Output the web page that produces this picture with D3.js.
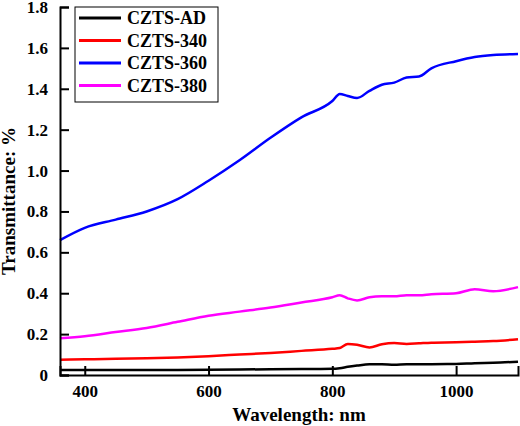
<!DOCTYPE html>
<head>
<meta charset="utf-8">
<style>
body{margin:0;background:#fff;}
text{font-family:"Liberation Serif","Times New Roman",serif;font-weight:bold;}
</style>
</head>
<body>
<svg width="520" height="426"></svg>
<script src="https://d3js.org/d3.v7.min.js"></script>
<script>
var names = ["CZTS-AD","CZTS-340","CZTS-360","CZTS-380"];
var colors = ["#000000","#ff0000","#0000ff","#ff00ff"];
var wl = [360,400,450,500,550,600,650,700,750,800,812,825,840,860,880,900,920,940,960,1000,1030,1060,1100];
var ad  = [0.025,0.025,0.025,0.025,0.025,0.026,0.027,0.028,0.029,0.030,0.033,0.040,0.046,0.052,0.052,0.050,0.052,0.052,0.053,0.054,0.058,0.060,0.065];
var s340= [0.075,0.077,0.079,0.082,0.086,0.092,0.100,0.108,0.118,0.128,0.132,0.152,0.148,0.135,0.150,0.156,0.152,0.155,0.158,0.160,0.163,0.166,0.175];
var s360= [0.66,0.72,0.76,0.80,0.86,0.95,1.05,1.16,1.26,1.34,1.375,1.365,1.355,1.39,1.42,1.43,1.455,1.46,1.50,1.535,1.555,1.565,1.57];
var s380= [0.18,0.19,0.21,0.23,0.26,0.29,0.31,0.33,0.355,0.38,0.39,0.375,0.365,0.38,0.385,0.385,0.39,0.39,0.395,0.40,0.42,0.41,0.43];
var series = [ad,s340,s360,s380];
var xTicks = [400,600,800,1000];
var yTicks = [0,0.2,0.4,0.6,0.8,1.0,1.2,1.4,1.6,1.8];

var svg = d3.select("svg");
var L=60,R=518,T=7,B=375;
var x = d3.scaleLinear().domain([360,1100]).range([L,R]);
var y = d3.scaleLinear().domain([0,1.8]).range([B,T]);

var line = d3.line().x(function(d){return x(d[0]);}).y(function(d){return y(d[1]);}).curve(d3.curveMonotoneX);
series.forEach(function(s,i){
    svg.append("path").datum(wl.map(function(w,j){return [w,s[j]];}))
        .attr("d",line).attr("fill","none").attr("stroke",colors[i]).attr("stroke-width",2.5);
});

// x axis
var gx = svg.append("g").attr("transform","translate(0,"+B+")");
gx.call(d3.axisBottom(x).tickValues(d3.range(400,1101,100)).tickSize(-6).tickFormat(""));
gx.call(d3.axisBottom(x).tickValues(xTicks).tickSize(-9).tickPadding(10).tickFormat(d3.format("d")));
gx.selectAll(".domain").attr("stroke-width",2);
gx.selectAll("line").attr("stroke-width",2);
gx.selectAll("text").attr("font-size",17).attr("fill","#000");

var gy = svg.append("g").attr("transform","translate("+L+",0)");
gy.call(d3.axisLeft(y).tickValues(d3.range(0.1,1.8,0.2)).tickSize(-6).tickFormat(""));
gy.call(d3.axisLeft(y).tickValues(yTicks).tickSize(-9).tickPadding(12).tickFormat(function(d){return d===0?"0":d3.format(".1f")(d);}));
gy.selectAll(".domain").attr("stroke-width",2);
gy.selectAll("line").attr("stroke-width",2);
gy.selectAll("text").attr("font-size",17).attr("fill","#000");

svg.append("text").attr("x",(L+R)/2+10).attr("y",421).attr("text-anchor","middle").attr("font-size",19).text("Wavelength: nm");
svg.append("text").attr("transform","translate(15,"+((T+B)/2+10)+") rotate(-90)").attr("text-anchor","middle").attr("font-size",19).text("Transmittance: %");

// legend
svg.append("rect").attr("x",75).attr("y",7).attr("width",143).attr("height",95).attr("fill","#fff").attr("stroke","#000").attr("stroke-width",1);
names.forEach(function(n,i){
    var yy = 18+i*22.5;
    svg.append("line").attr("x1",79).attr("x2",121).attr("y1",yy).attr("y2",yy).attr("stroke",colors[i]).attr("stroke-width",3);
    svg.append("text").attr("x",127).attr("y",yy+6).attr("font-size",18).text(n);
});
</script>
</body>
